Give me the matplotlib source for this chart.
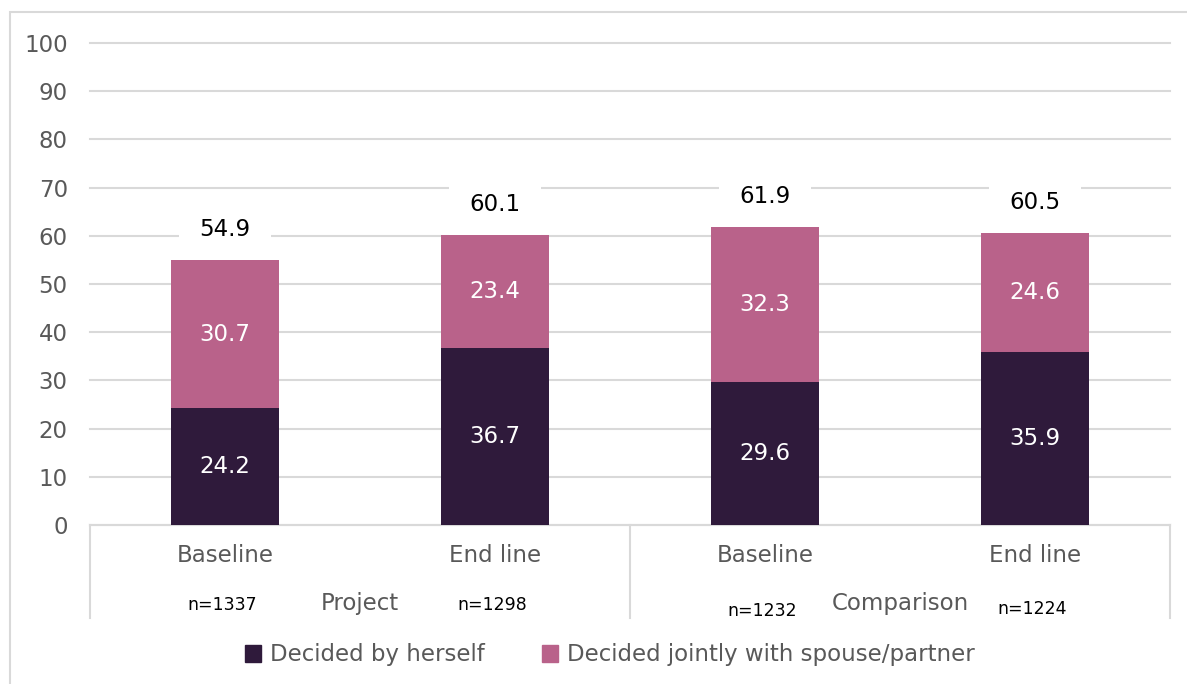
import matplotlib
matplotlib.use("Agg")
import matplotlib.pyplot as plt
from matplotlib.patches import Rectangle
import matplotlib.transforms as mtransforms

# data
categories = ["Baseline", "End line", "Baseline", "End line"]
groups = ["Project", "Comparison"]
sample_sizes = ["n=1337", "n=1298", "n=1232", "n=1224"]
herself = [24.2, 36.7, 29.6, 35.9]
jointly = [30.7, 23.4, 32.3, 24.6]
totals = [54.9, 60.1, 61.9, 60.5]

dark = "#2F1A3B"
pink = "#B9628A"
grey_text = "#595959"
grid_col = "#D9D9D9"

plt.rcParams["font.family"] = ["DejaVu Sans"]

W, H = 1187, 684
fig = plt.figure(figsize=(W / 100, H / 100), dpi=100)
ax = fig.add_axes([90 / W, 1 - 525 / H, 1080 / W, 482 / H])

# outer frame
fig.patches.append(Rectangle((10 / W, -0.05), 1.2, 1 - 12 / H + 0.05,
                             transform=fig.transFigure, fill=False,
                             edgecolor=grid_col, linewidth=1.5))

x = list(range(len(categories)))
ax.bar(x, herself, width=0.4, color=dark, zorder=3)
ax.bar(x, jointly, width=0.4, bottom=herself, color=pink, zorder=3)

for i in x:
    ax.text(i, herself[i] / 2, f"{herself[i]:.1f}", ha="center", va="center",
            color="white", fontsize=16.5, zorder=4)
    ax.text(i, herself[i] + jointly[i] / 2, f"{jointly[i]:.1f}", ha="center",
            va="center", color="white", fontsize=16.5, zorder=4)
    # totals sit on a white box that hides the gridlines but stays behind the bars
    ax.annotate(f"{totals[i]:.1f}", (i, totals[i]), xytext=(0, 22),
                textcoords="offset points", ha="center", va="center",
                fontsize=16.5, color="black", zorder=2,
                bbox=dict(boxstyle="square,pad=0.9", fc="white", ec="none"))

ax.set_xlim(-0.5, 3.5)
ax.set_ylim(0, 100)
ax.set_yticks(range(0, 101, 10))
ax.yaxis.grid(True, color=grid_col, linewidth=1.5, zorder=0)
for gl in ax.get_ygridlines():
    gl.set_clip_on(False)
ax.set_axisbelow(True)
for s in ["top", "right", "left"]:
    ax.spines[s].set_visible(False)
ax.spines["bottom"].set_color(grid_col)
ax.spines["bottom"].set_linewidth(1.5)
ax.tick_params(axis="y", length=0, labelsize=16.5, labelcolor=grey_text, pad=16)
ax.tick_params(axis="x", length=0, labelbottom=False)

# two-level category axis
trans = mtransforms.blended_transform_factory(ax.transData, ax.transAxes)
for i in x:
    ax.text(i, -0.064, categories[i], transform=trans, ha="center", va="center",
            fontsize=16.5, color=grey_text)
n_y = [-0.166, -0.166, -0.178, -0.174]
for i in x:
    ax.text(i - 0.01, n_y[i], sample_sizes[i], transform=trans, ha="center",
            va="center", fontsize=12.5, color="black")
for g, name in enumerate(groups):
    ax.text(0.5 + 2 * g, -0.162, name, transform=trans, ha="center",
            va="center", fontsize=16.5, color=grey_text)
for xs in [-0.5, 1.5, 3.5]:
    ax.plot([xs, xs], [0, -0.193], transform=trans, color=grid_col,
            linewidth=1.5, clip_on=False)

h1 = Rectangle((0, 0), 1, 1, color=dark)
h2 = Rectangle((0, 0), 1, 1, color=pink)
leg = fig.legend([h1, h2], ["Decided by herself", "Decided jointly with spouse/partner"],
                 loc="center", bbox_to_anchor=(610 / W, 1 - 655 / H), ncol=2,
                 frameon=False, fontsize=16.5, handlelength=0.7, handleheight=0.7,
                 handletextpad=0.4, columnspacing=2.5)
for t in leg.get_texts():
    t.set_color(grey_text)

fig.savefig("out.png", dpi=100)
